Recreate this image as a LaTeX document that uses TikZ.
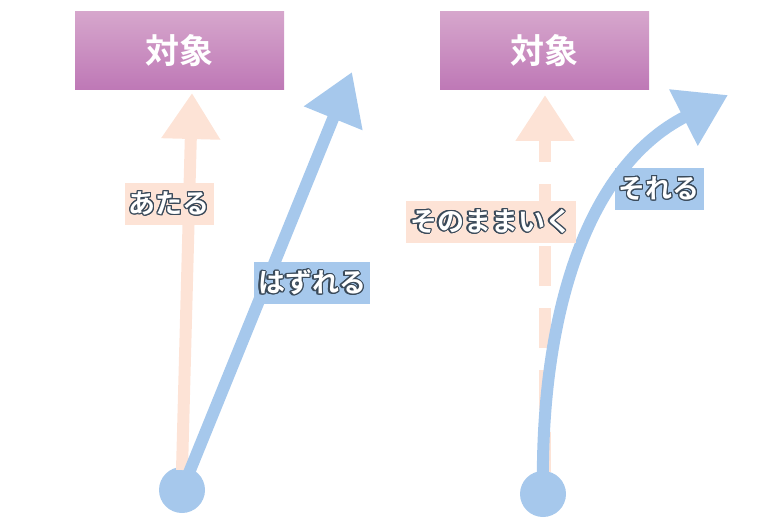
\documentclass[tikz,border=0pt]{standalone}
\usepackage{fontspec}
\newfontfamily\jp{Noto Sans CJK JP}[BoldFont={Noto Sans CJK JP Bold}]
\usepackage[copies]{contour}
\contourlength{1.3pt}
\contournumber{16}
\usetikzlibrary{arrows.meta}
\definecolor{peach}{HTML}{FDE3D6}
\definecolor{skyblue}{HTML}{A6C8EC}
\definecolor{plumtop}{HTML}{D6A6CC}
\definecolor{plumbot}{HTML}{BE78B6}
\definecolor{inkline}{HTML}{3A4A5A}
\tikzset{
  target/.style={minimum width=209pt, minimum height=78pt, top color=plumtop,
    bottom color=plumbot, draw=none, text=white, font=\jp\bfseries\fontsize{34}{38}\selectfont},
  tag/.style={inner sep=4pt, minimum height=42pt, text=white,
    font=\jp\bfseries\fontsize{27}{30}\selectfont},
  peachtag/.style={tag, fill=peach},
  bluetag/.style={tag, fill=skyblue},
  start/.style={circle, fill=skyblue, minimum size=46pt, inner sep=0pt},
  peacharrow/.style={draw=peach, line width=12pt, -{Triangle[length=46pt,width=56pt]}},
  bluearrow/.style={draw=skyblue, line width=12pt, -{Triangle[length=50pt,width=60pt]}}
}
\newcommand{\outl}[1]{\contour{inkline}{#1}}
\begin{document}
\begin{tikzpicture}[x=1pt,y=-1pt]
\useasboundingbox (0,0) rectangle (768,529);
% left: hit or miss
\node[target] (goalA) at (179.5,51) {対象};
\coordinate (tipA) at (192,93);
\node[start] (srcA) at (182,490) {};
\draw[peacharrow] (182,470) -- (tipA);
\draw[bluearrow] (srcA.center) -- (352,72);
\node[peachtag] (hitA) at (169,204) {\outl{あたる}};
\node[bluetag] (missA) at (312,283) {\outl{はずれる}};
% right: straight or drift
\node[target] (goalB) at (544.5,51) {対象};
\coordinate (tipB) at (545,95);
\node[start] (srcB) at (543,494) {};
\draw[draw=peach, line width=12pt, dash pattern=on 40pt off 22pt] (545,472) -- (545,140);
\draw[peacharrow] (545,150) -- (tipB);
\draw[bluearrow] (srcB.center) .. controls (540,330) and (580,170) .. (728,95);
\node[peachtag] (straightB) at (491,222) {\outl{そのままいく}};
\node[bluetag] (driftB) at (659,189) {\outl{それる}};
\end{tikzpicture}
\end{document}
